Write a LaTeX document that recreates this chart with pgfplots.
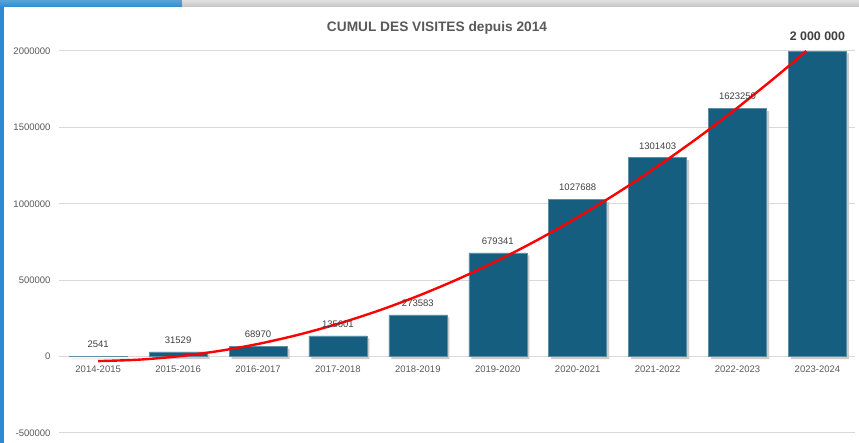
\documentclass[border=0pt]{standalone}
\usepackage{fontspec}
\setmainfont{Liberation Sans}
\usepackage{pgfplots}
\pgfplotsset{compat=1.18}

\definecolor{barblue}{HTML}{165E80}
\definecolor{txtgray}{HTML}{595959}
\definecolor{lblgray}{HTML}{404040}
\definecolor{gridgray}{HTML}{D9D9D9}
\definecolor{edgeblue}{HTML}{2E8BD3}

\begin{document}
\begin{tikzpicture}[x=1pt,y=1pt]
% frame of the screenshot
\fill[white] (0,0) rectangle (859,443);
\shade[top color=edgeblue!80!white, bottom color=edgeblue] (0,436) rectangle (182,443);
\shade[top color=black!12, bottom color=black!24] (182,436) rectangle (859,443);
\fill[edgeblue] (0,0) rectangle (4,436);

\node[font=\bfseries\fontsize{13.7}{15}\selectfont, text=txtgray, anchor=base] at (437,411) {CUMUL DES VISITES depuis 2014};

\begin{axis}[
    at={(59pt,10pt)}, anchor=south west,
    scale only axis, width=796pt, height=382pt,
    xmin=-0.49, xmax=9.47,
    ymin=-500000, ymax=2000000,
    ytick={-500000,0,500000,1000000,1500000,2000000},
    xtick={0,1,2,3,4,5,6,7,8,9},
    xticklabels={2014-2015,2015-2016,2016-2017,2017-2018,2018-2019,2019-2020,2020-2021,2021-2022,2022-2023,2023-2024},
    axis x line=middle, axis y line=left,
    axis line style={draw=none},
    major tick length=0pt,
    ymajorgrids,
    grid style={gridgray, line width=1pt},
    scaled y ticks=false,
    /pgf/number format/assume math mode=true,
    yticklabel style={/pgf/number format/fixed, /pgf/number format/1000 sep={},
        font=\fontsize{9.5}{10}\selectfont, text=txtgray, xshift=-5pt},
    xticklabel style={font=\fontsize{9.5}{10}\selectfont, text=txtgray, yshift=-6pt},
    clip=false,
]
% shadows
\addplot[ybar, bar width=58pt, bar shift=2.5pt, fill=black!20, draw=none, yshift=-2.5pt, forget plot]
    coordinates {(0,2541) (1,31529) (2,68970) (3,135601) (4,273583) (5,679341) (6,1027688) (7,1301403) (8,1623250) (9,2000000)};
% bars
\addplot[ybar, bar width=58pt, bar shift=0pt, fill=barblue, draw=barblue!70!white, line width=0.5pt,
    point meta=explicit symbolic, nodes near coords,
    nodes near coords style={font=\fontsize{9.5}{10}\selectfont, text=lblgray, yshift=5pt}]
    coordinates {(0,2541) [2541] (1,31529) [31529] (2,68970) [68970] (3,135601) [135601]
                 (4,273583) [273583] (5,679341) [679341] (6,1027688) [1027688]
                 (7,1301403) [1301403] (8,1623250) [1623250]};
\addplot[ybar, bar width=58pt, bar shift=0pt, fill=barblue, draw=barblue!70!white, line width=0.5pt,
    point meta=explicit symbolic, nodes near coords,
    nodes near coords style={font=\bfseries\fontsize{12.4}{13}\selectfont, text=lblgray, yshift=7pt}]
    coordinates {(9,2000000) [2 000 000]};
% polynomial trend (order 2)
\addplot[red, line width=2.4pt, smooth, no marks]
    coordinates {(0,-29477) (0.5,-20326) (1,1425) (1.5,35777) (2,82728) (2.5,142280)
                 (3,214432) (3.5,299184) (4,396536) (4.5,506488) (5,629041) (5.5,764193)
                 (6,911946) (6.5,1072299) (7,1245252) (7.5,1430805) (8,1628958)
                 (8.5,1839712) (8.86,2000000)};
\end{axis}
\end{tikzpicture}
\end{document}
